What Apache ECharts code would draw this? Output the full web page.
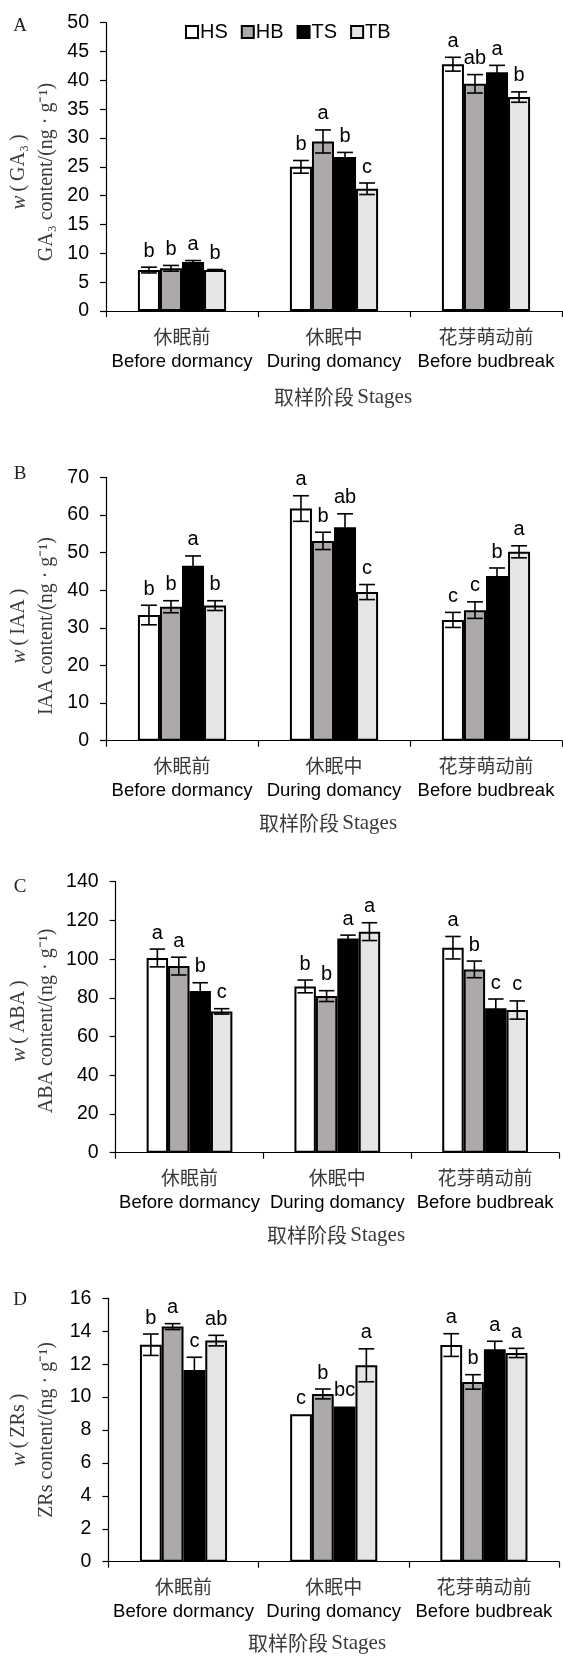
<!DOCTYPE html>
<html><head><meta charset="utf-8">
<script src="https://cdn.jsdelivr.net/npm/echarts@6/dist/echarts.min.js"></script>
<style>html,body{margin:0;padding:0;background:#fff}#c{width:563px;height:1656px}</style>
</head><body><div id="c"></div>
<script>
// ---------- data ----------
const categoriesZh = ['休眠前', '休眠中', '花芽萌动前'];
const categoriesEn = ['Before dormancy', 'During domancy', 'Before budbreak'];
const seriesNames = ['HS', 'HB', 'TS', 'TB'];

// A: GA3
const ga3Values = [[7.1, 25.0, 42.8], [7.4, 29.4, 39.4], [8.5, 26.7, 41.4], [7.1, 21.2, 37.1]];
const ga3Errors = [[0.5, 1.1, 1.2], [0.5, 2.0, 1.6], [0.25, 0.8, 1.2], [0.1, 1.0, 0.9]];
const ga3Letters = [['b', 'b', 'a'], ['b', 'a', 'ab'], ['a', 'b', 'a'], ['b', 'c', 'b']];
// B: IAA
const iaaValues = [[33.4, 61.7, 32.1], [35.6, 53.1, 34.7], [46.5, 56.7, 43.8], [35.9, 39.5, 50.2]];
const iaaErrors = [[2.6, 3.4, 2.0], [1.6, 2.3, 2.2], [2.6, 3.6, 2.1], [1.3, 2.0, 1.6]];
const iaaLetters = [['b', 'a', 'c'], ['b', 'b', 'c'], ['a', 'ab', 'b'], ['b', 'c', 'a']];
// C: ABA
const abaValues = [[100.6, 85.9, 105.9], [96.4, 80.9, 94.7], [83.5, 110.7, 74.6], [73.0, 114.2, 73.7]];
const abaErrors = [[4.6, 3.3, 5.8], [4.6, 2.8, 4.3], [4.3, 1.7, 4.8], [1.4, 4.6, 4.7]];
const abaLetters = [['a', 'b', 'a'], ['a', 'b', 'b'], ['b', 'a', 'c'], ['c', 'a', 'c']];
// D: ZRs
const zrsValues = [[13.18, 8.95, 13.16], [14.28, 10.19, 10.92], [11.65, 9.42, 12.9], [13.43, 11.93, 12.68]];
const zrsErrors = [[0.65, 0, 0.69], [0.18, 0.3, 0.44], [0.77, 0, 0.49], [0.32, 1.0, 0.28]];
const zrsLetters = [['b', 'c', 'a'], ['a', 'b', 'b'], ['c', 'bc', 'a'], ['ab', 'a', 'a']];

const yMax = [50, 70, 140, 16];
const yInterval = [5, 10, 20, 2];
const panelTags = ['A', 'B', 'C', 'D'];
const nameLine1 = ['\u2009(\u2009GA₃\u2009)', '\u2009(\u2009IAA\u2009)', '\u2009(\u2009ABA\u2009)', '\u2009(\u2009ZRs\u2009)'];
const nameLine2 = ['GA₃ content/(ng · g⁻¹)', 'IAA content/(ng · g⁻¹)', 'ABA content/(ng · g⁻¹)', 'ZRs content/(ng · g⁻¹)'];
const stageTitleZh = '取样阶段';
const stageTitleEn = 'Stages';

// ---------- layout / style ----------
const panels = [
  { left: 106, right: 1, top: 22.7, height: 288.3, nameY: 172, stageX: 343, stageY: 397, tagY: 26 },
  { left: 106, right: 1, top: 477.3, height: 263.4, nameY: 626, stageX: 328, stageY: 823, tagY: 474 },
  { left: 115.6, right: 4, top: 881.7, height: 271, nameY: 1021, stageX: 336, stageY: 1235, tagY: 887 },
  { left: 108.4, right: 4, top: 1298.3, height: 263.4, nameY: 1430, stageX: 317, stageY: 1643, tagY: 1300 }
];
const barColors = ['#ffffff', '#ada9a8', '#000000', '#e5e5e5'];
const CAT_GAP = 0.42;
const SANS = 'Liberation Sans, Arial, sans-serif';
const SERIF = 'Liberation Serif, Times New Roman, serif';
const CJK = 'Noto Sans CJK SC, sans-serif';
const GREY = '#3a3a3a';

const valuesAll = [ga3Values, iaaValues, abaValues, zrsValues];
const errorsAll = [ga3Errors, iaaErrors, abaErrors, zrsErrors];
const lettersAll = [ga3Letters, iaaLetters, abaLetters, zrsLetters];

const grids = [], xAxes = [], yAxes = [], series = [], graphics = [];

panels.forEach((p, pi) => {
  grids.push({ left: p.left, right: p.right, top: p.top, height: p.height, outerBoundsMode: 'none', containLabel: false });
  xAxes.push({
    type: 'category', gridIndex: pi, data: categoriesZh,
    axisLine: { lineStyle: { color: '#000', width: 1.2 } },
    axisTick: { show: true, length: 6, interval: 0, lineStyle: { color: '#000', width: 1.2 } },
    axisLabel: {
      interval: 0, margin: 13, lineHeight: 25,
      formatter: (v, i) => '{zh|' + v + '}\n{en|' + categoriesEn[i] + '}',
      rich: {
        zh: { fontFamily: CJK, fontSize: 19, color: GREY, lineHeight: 25 },
        en: { fontFamily: SANS, fontSize: 18.5, color: '#000', lineHeight: 25 }
      }
    },
    splitLine: { show: false }
  });
  yAxes.push({
    type: 'value', gridIndex: pi, min: 0, max: yMax[pi], interval: yInterval[pi],
    axisLine: { show: true, lineStyle: { color: '#000', width: 1.2 } },
    axisTick: { show: true, length: 6, lineStyle: { color: '#000', width: 1.2 } },
    axisLabel: { margin: 17, fontFamily: SANS, fontSize: 19.5, color: '#000' },
    splitLine: { show: false }
  });
  const vals = valuesAll[pi];
  seriesNames.forEach((nm, si) => {
    series.push({
      name: nm, type: 'bar', xAxisIndex: pi, yAxisIndex: pi,
      data: vals[si], barGap: '0%', barCategoryGap: (CAT_GAP * 100) + '%',
      itemStyle: { color: barColors[si], borderColor: '#000', borderWidth: 2 },
      emphasis: { disabled: true }, silent: true, z: 2
    });
  });
  const errData = [];
  const letters = [];
  for (let si = 0; si < 4; si++) {
    for (let ci = 0; ci < 3; ci++) {
      errData.push([ci, si, vals[si][ci], errorsAll[pi][si][ci]]);
      letters.push(lettersAll[pi][si][ci]);
    }
  }
  series.push({
    type: 'custom', xAxisIndex: pi, yAxisIndex: pi, data: errData, z: 5, silent: true,
    encode: { x: 0, y: 2 }, clip: false,
    renderItem: (params, api) => {
      const ci = api.value(0), si = api.value(1), v = api.value(2), e = api.value(3);
      const c = api.coord([ci, v]);
      const band = api.size([1, 0])[0];
      const bw = band * (1 - CAT_GAP) / 4;
      const x = c[0] + (si - 1.5) * bw;
      const top = api.coord([ci, v + e])[1];
      const bot = api.coord([ci, v - e])[1];
      const hc = bw * 0.36;
      const ls = { stroke: '#000', lineWidth: 1.6 };
      const ch = [];
      if (e > 0) {
        ch.push({ type: 'line', shape: { x1: x, y1: top, x2: x, y2: bot }, style: ls });
        ch.push({ type: 'line', shape: { x1: x - hc, y1: top, x2: x + hc, y2: top }, style: ls });
        ch.push({ type: 'line', shape: { x1: x - hc, y1: bot, x2: x + hc, y2: bot }, style: ls });
      }
      ch.push({ type: 'text', style: { text: letters[params.dataIndex], x: x, y: top - 6, align: 'center', verticalAlign: 'bottom', fontFamily: SANS, fontSize: 20, fill: '#000' } });
      return { type: 'group', children: ch };
    }
  });
  // y-axis names (two rotated lines)
  graphics.push({
    type: 'text', x: 19, y: p.nameY, rotation: Math.PI / 2,
    style: { text: '{i|w}{n|' + nameLine1[pi] + '}', align: 'center', verticalAlign: 'middle',
      rich: { i: { fontFamily: SERIF, fontStyle: 'italic', fontSize: 21, fill: GREY }, n: { fontFamily: SERIF, fontSize: 20, fill: GREY } } }
  });
  graphics.push({
    type: 'text', x: 47, y: p.nameY, rotation: Math.PI / 2,
    style: { text: nameLine2[pi], align: 'center', verticalAlign: 'middle', fontFamily: SERIF, fontSize: 20, fill: GREY }
  });
  // stage title
  graphics.push({
    type: 'text', x: p.stageX, y: p.stageY,
    style: { text: '{zh|' + stageTitleZh + '} {en|' + stageTitleEn + '}', align: 'center', verticalAlign: 'middle',
      rich: { zh: { fontFamily: CJK, fontSize: 20, fill: GREY }, en: { fontFamily: SERIF, fontSize: 21, fill: GREY } } }
  });
  // panel tag
  graphics.push({
    type: 'text', x: 20, y: p.tagY,
    style: { text: panelTags[pi], align: 'center', verticalAlign: 'middle', fontFamily: SERIF, fontSize: 19, fill: '#222' }
  });
});

const chart = echarts.init(document.getElementById('c'), null, { renderer: 'canvas' });
chart.setOption({
  animation: false,
  backgroundColor: '#fff',
  legend: {
    data: seriesNames, left: 180, top: 17, itemWidth: 12, itemHeight: 12, itemGap: 13,
    icon: 'rect', selectedMode: false,
    itemStyle: { borderColor: '#000', borderWidth: 2 },
    textStyle: { fontFamily: SANS, fontSize: 20, color: '#000', padding: [0, 0, 0, -3] }
  },
  grid: grids, xAxis: xAxes, yAxis: yAxes, series: series, graphic: graphics
});
</script></body></html>
